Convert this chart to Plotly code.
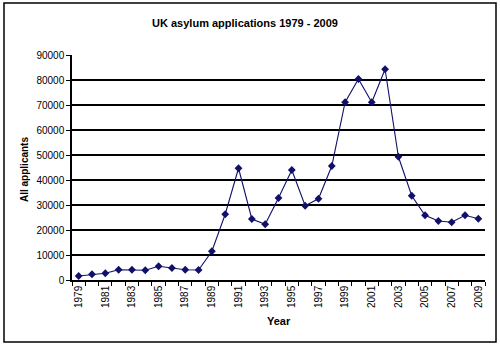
import plotly.graph_objects as go

years = list(range(1979, 2010))
applicants = [1600, 2300, 2700, 4100, 4100, 3900, 5500, 4800, 4100, 4000,
              11500, 26300, 44700, 24400, 22300, 32800, 44000, 29700, 32500, 45600,
              71100, 80400, 71100, 84300, 49300, 33700, 25900, 23600, 23100, 25900, 24500]
label_years = [y for y in years if (y - 1979) % 2 == 0]
title_text = "UK asylum applications 1979 - 2009"
y_title = "All applicants"
x_title = "Year"

navy = "#10106a"
font_family = "Liberation Sans, Arial, sans-serif"

fig = go.Figure()
fig.add_trace(go.Scatter(
    x=years, y=applicants, mode="lines+markers",
    line=dict(color=navy, width=1.1),
    marker=dict(symbol="diamond", size=6, color=navy),
    showlegend=False,
))

L, R, T, B = 72, 15, 55, 66
W, H = 500, 346
pw, ph = W - L - R, H - T - B

fig.update_layout(
    width=W, height=H,
    margin=dict(l=L, r=R, t=T, b=B),
    paper_bgcolor="white", plot_bgcolor="white",
    font=dict(family=font_family, color="black", size=10),
    title=dict(text=f"<b>{title_text}</b>", x=0.49, xref="container", xanchor="center",
               y=1 - 23 / H, yanchor="middle", yref="container",
               font=dict(size=11, family=font_family, color="black")),
)

fig.update_xaxes(
    range=[1978.5, 2009.5],
    tickmode="array", tickvals=label_years, ticktext=[str(y) for y in label_years],
    tickangle=-90, ticks="", showgrid=False, zeroline=False,
    showline=True, linecolor="black", linewidth=1.5,
    tickfont=dict(size=10, family=font_family, color="black"),
    minor=dict(tickmode="linear", tick0=1978.5, dtick=1, ticks="outside",
               ticklen=4, tickcolor="black", tickwidth=1, showgrid=False),
)
fig.update_yaxes(
    range=[0, 90000], dtick=10000, tickformat="d",
    ticks="outside", ticklen=4, tickcolor="black", tickwidth=1,
    showgrid=True, gridcolor="black", gridwidth=1.5,
    zeroline=False, showline=True, linecolor="black", linewidth=1.5,
    tickfont=dict(size=10, family=font_family, color="black"),
)

fig.add_annotation(text=f"<b>{y_title}</b>", xref="paper", yref="paper",
                   x=(24 - L) / pw, y=(280 - 170) / ph, textangle=-90,
                   showarrow=False, xanchor="center", yanchor="middle",
                   font=dict(size=10, family=font_family, color="black"))
fig.add_annotation(text=f"<b>{x_title}</b>", xref="paper", yref="paper",
                   x=(279 - L) / pw, y=(280 - 321) / ph,
                   showarrow=False, xanchor="center", yanchor="middle",
                   font=dict(size=11, family=font_family, color="black"))

fig.add_shape(type="rect", xref="paper", yref="paper",
              x0=(4 - L) / pw, x1=(496 - L) / pw,
              y0=(280 - 342) / ph, y1=(280 - 3) / ph,
              line=dict(color="black", width=1.5), layer="above")

fig.write_html("out.html")
